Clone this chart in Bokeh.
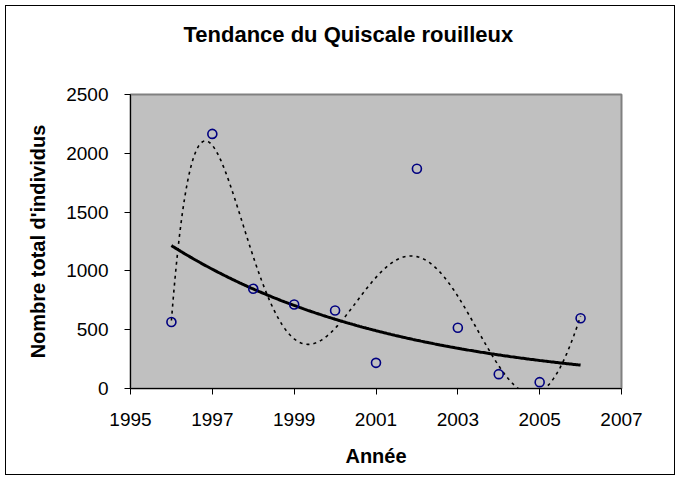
import numpy as np
from bokeh.plotting import figure
from bokeh.models import FixedTicker, Title, Range1d
from bokeh.embed import file_html
from bokeh.resources import INLINE

# Data
years = [1996, 1997, 1998, 1999, 2000, 2001, 2002, 2003, 2004, 2005, 2006]
counts = [565, 2165, 848, 714, 663, 218, 1868, 516, 122, 54, 598]
x_ticks = [1995, 1997, 1999, 2001, 2003, 2005, 2007]
y_ticks = [0, 500, 1000, 1500, 2000, 2500]

title_text = "Tendance du Quiscale rouilleux"
x_title = "Année"
y_title = "Nombre total d'individus"

FONT = "Liberation Sans"

# Trend lines (as in the spreadsheet: exponential + polynomial order 6)
xa = np.array(years, dtype=float)
ya = np.array(counts, dtype=float)
xs = np.linspace(min(years), max(years), 301)
b, a = np.polyfit(xa - 2001, np.log(ya), 1)
exp_trend = np.exp(a + b * (xs - 2001))
poly = np.polyfit(xa - 2001, ya, 6)
poly_trend = np.polyval(poly, xs - 2001)

p = figure(frame_width=491, frame_height=294, output_backend="svg",
           toolbar_location=None,
           x_range=Range1d(1995, 2007), y_range=Range1d(0, 2500))
p.min_border_left = 124
p.min_border_right = 53
p.min_border_top = 88
p.min_border_bottom = 86
p.margin = 5
p.styles = {"border": "1px solid black"}

p.background_fill_color = "#C0C0C0"
p.border_fill_color = "white"
p.outline_line_color = "#808080"
p.outline_line_width = 2
p.grid.visible = False

for ax in (p.xaxis, p.yaxis):
    ax.axis_line_color = "black"
    ax.axis_line_width = 1
    ax.major_tick_line_color = "black"
    ax.major_tick_in = 0
    ax.major_tick_out = 6
    ax.minor_tick_line_color = None
    ax.major_label_text_font = FONT
    ax.major_label_text_font_size = "19px"
    ax.major_label_text_color = "black"
    ax.axis_label_text_font = FONT
    ax.axis_label_text_font_size = "20px"
    ax.axis_label_text_font_style = "bold"
    ax.axis_label_text_color = "black"

p.xaxis.ticker = FixedTicker(ticks=x_ticks)
p.yaxis.ticker = FixedTicker(ticks=y_ticks)
p.xaxis.major_label_standoff = 18
p.yaxis.major_label_standoff = 16
p.xaxis.axis_label = x_title
p.yaxis.axis_label = y_title
p.xaxis.axis_label_standoff = 16
p.yaxis.axis_label_standoff = 14

p.line(xs, poly_trend, line_color="black", line_width=1.6, line_dash="3 4")
p.line(xs, exp_trend, line_color="black", line_width=3)
p.scatter(years, counts, marker="circle", size=9, fill_color=None,
          line_color="#000080", line_width=1.6)

# spacer panel between the frame and the title (nearest to the frame)
p.add_layout(Title(text=" ", text_font_size="1px", standoff=28,
                   text_color="white"), "above")
p.add_layout(Title(text=title_text, align="left", offset=53, standoff=30,
                   vertical_align="top",
                   text_font=FONT, text_font_size="22px",
                   text_font_style="bold", text_color="black"), "above")

open("out.html", "w").write(file_html(p, INLINE))
